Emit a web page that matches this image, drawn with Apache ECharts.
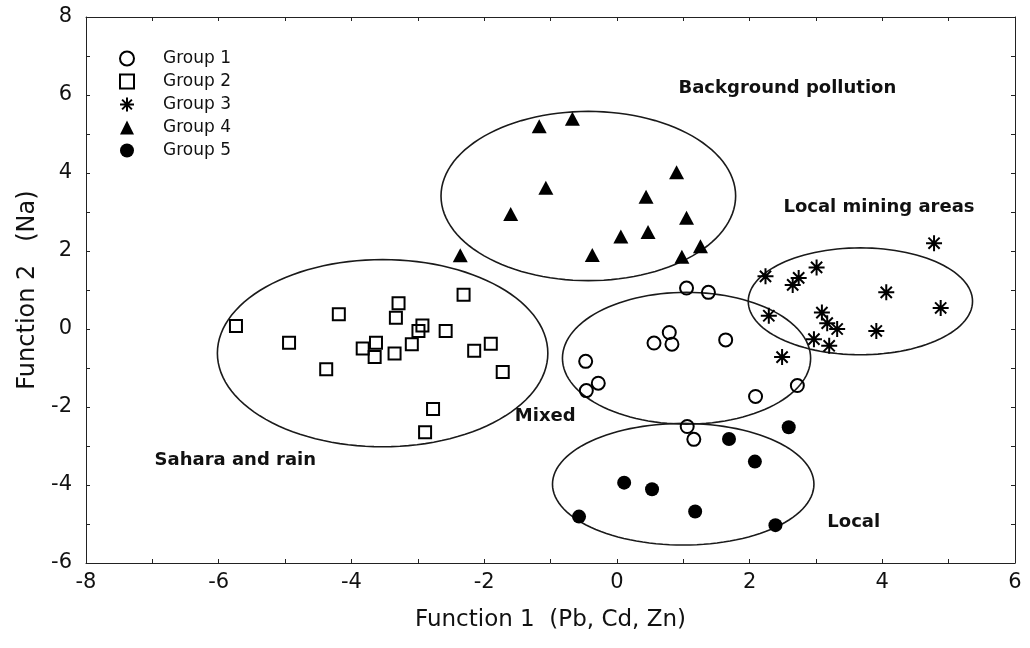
<!DOCTYPE html>
<html>
<head>
<meta charset="utf-8">
<script src="https://cdn.jsdelivr.net/npm/echarts@6/dist/echarts.min.js"></script>
<style>
html, body { margin: 0; background: #fff; }
#chart { width: 1030px; height: 648px; }
</style>
</head>
<body>
<div id="chart"></div>
<script>
"use strict";

// groups (Function 1, Function 2)
var groupNames = ['Group 1', 'Group 2', 'Group 3', 'Group 4', 'Group 5'];

var group1 = [
    [1.05, 1.05], [1.38, 0.94], [0.79, -0.09], [0.56, -0.36], [0.83, -0.39],
    [1.64, -0.28], [-0.47, -0.83], [-0.28, -1.39], [-0.46, -1.58], [2.09, -1.73],
    [2.72, -1.45], [1.06, -2.50], [1.16, -2.83]
];
var group2 = [
    [-5.74, 0.08], [-4.94, -0.35], [-4.19, 0.38], [-4.38, -1.03], [-3.83, -0.50],
    [-3.63, -0.35], [-3.65, -0.72], [-3.29, 0.66], [-3.33, 0.29], [-3.35, -0.63],
    [-3.09, -0.39], [-2.99, -0.05], [-2.93, 0.09], [-2.58, -0.05], [-2.31, 0.88],
    [-2.15, -0.56], [-1.90, -0.38], [-1.72, -1.10], [-2.77, -2.05], [-2.89, -2.65]
];
var group3 = [
    [4.78, 2.20], [2.24, 1.35], [2.74, 1.31], [2.65, 1.13], [3.01, 1.58],
    [4.06, 0.94], [4.88, 0.54], [2.29, 0.34], [3.09, 0.42], [3.17, 0.15],
    [3.32, 0.00], [3.91, -0.05], [2.97, -0.26], [3.20, -0.43], [2.49, -0.72]
];
var group4 = [
    [-1.17, 5.20], [-0.67, 5.39], [-1.07, 3.62], [-1.60, 2.95], [-2.36, 1.89],
    [-0.37, 1.90], [0.06, 2.37], [0.47, 2.49], [0.44, 3.39], [0.90, 4.02],
    [1.05, 2.85], [1.26, 2.12], [0.98, 1.85]
];
var group5 = [
    [2.59, -2.52], [1.69, -2.82], [2.08, -3.40], [0.11, -3.94], [0.53, -4.11],
    [1.18, -4.68], [-0.57, -4.81], [2.39, -5.03]
];

// ellipses round the clusters: centre and half axes, in data units
var ellipseCenters = [[-3.53, -0.62], [-0.43, 3.41], [1.05, -0.75], [1.00, -3.98], [3.67, 0.71]];
var ellipseRadii = [[2.49, 2.40], [2.22, 2.17], [1.87, 1.69], [1.97, 1.56], [1.69, 1.37]];

// area names
var areaNames = ['Sahara and rain', 'Background pollution', 'Mixed', 'Local', 'Local mining areas'];
var areaLabelAt = [[-5.75, -3.38], [2.57, 6.18], [-1.08, -2.23], [3.57, -4.95], [3.95, 3.11]];

var xTicks = { min: -8, max: 6, interval: 2 };
var yTicks = { min: -6, max: 8, interval: 2 };

var FONT = '"DejaVu Sans", "Liberation Sans", sans-serif';
var starPath = 'path://M10,0L10,20M0,10L20,10M3,3L17,17M3,17L17,3';

var myChart = echarts.init(document.getElementById('chart'));

function axisBase(extra) {
    var a = {
        type: 'value',
        axisLine: { show: true, onZero: false, lineStyle: { color: '#222', width: 1 } },
        axisTick: { show: true, inside: true, length: 4, lineStyle: { color: '#222' } },
        minorTick: { show: true, splitNumber: 2, length: 4, lineStyle: { color: '#222' } },
        splitLine: { show: false },
        axisLabel: { color: '#111', fontSize: 21, fontFamily: FONT },
        nameTextStyle: { color: '#111', fontFamily: FONT }
    };
    for (var k in extra) a[k] = extra[k];
    return a;
}

var ellipseData = ellipseCenters.map(function (c, i) {
    return [c[0], c[1], ellipseRadii[i][0], ellipseRadii[i][1]];
});

var option = {
    animation: false,
    backgroundColor: '#fff',
    grid: { left: 86, right: 15, top: 17, bottom: 85 },
    legend: {
        data: groupNames,
        orient: 'vertical',
        left: 114,
        top: 45,
        itemWidth: 14,
        itemHeight: 14,
        itemGap: 6,
        textStyle: { color: '#111', fontSize: 17, fontFamily: FONT, lineHeight: 14, padding: [0, 0, 0, 24] }
    },
    xAxis: [
        axisBase({
            min: xTicks.min, max: xTicks.max, interval: xTicks.interval,
            name: 'Function 1  (Pb, Cd, Zn)', nameLocation: 'middle', nameGap: 46,
            nameTextStyle: { color: '#111', fontFamily: FONT, fontSize: 23 },
            axisLabel: { color: '#111', fontSize: 21, fontFamily: FONT, margin: 9 }
        }),
        axisBase({
            min: xTicks.min, max: xTicks.max, interval: xTicks.interval,
            position: 'top', axisLabel: { show: false }
        })
    ],
    yAxis: [
        axisBase({
            min: yTicks.min, max: yTicks.max, interval: yTicks.interval,
            name: 'Function 2   (Na)', nameLocation: 'middle', nameGap: 45,
            nameTextStyle: { color: '#111', fontFamily: FONT, fontSize: 24 },
            axisLabel: { color: '#111', fontSize: 21, fontFamily: FONT, margin: 14 }
        }),
        axisBase({
            min: yTicks.min, max: yTicks.max, interval: yTicks.interval,
            position: 'right', axisLabel: { show: false }
        })
    ],
    series: [
        {
            type: 'custom',
            name: 'ellipses',
            silent: true,
            z: 1,
            data: ellipseData,
            renderItem: function (params, api) {
                var cx = api.value(0), cy = api.value(1), rx = api.value(2), ry = api.value(3);
                var pts = [];
                for (var k = 0; k < 120; k++) {
                    var t = k / 120 * Math.PI * 2;
                    pts.push(api.coord([cx + rx * Math.cos(t), cy + ry * Math.sin(t)]));
                }
                return {
                    type: 'polygon',
                    shape: { points: pts },
                    style: { fill: 'none', stroke: '#1a1a1a', lineWidth: 1.6 }
                };
            }
        },
        {
            type: 'custom',
            name: 'areas',
            silent: true,
            z: 3,
            data: areaLabelAt.map(function (p, i) { return [p[0], p[1], i]; }),
            renderItem: function (params, api) {
                var pt = api.coord([api.value(0), api.value(1)]);
                return {
                    type: 'text',
                    x: pt[0], y: pt[1],
                    style: {
                        text: areaNames[api.value(2)],
                        fill: '#111',
                        font: 'bold 18px ' + FONT,
                        align: 'center', verticalAlign: 'middle',
                        textAlign: 'center', textVerticalAlign: 'middle'
                    }
                };
            }
        },
        {
            name: groupNames[0], type: 'scatter', z: 4, data: group1,
            symbol: 'circle', symbolSize: 13,
            itemStyle: { color: 'rgba(255,255,255,0)', borderColor: '#000', borderWidth: 2, opacity: 1 }
        },
        {
            name: groupNames[1], type: 'scatter', z: 4, data: group2,
            symbol: 'rect', symbolSize: 12,
            itemStyle: { color: 'rgba(255,255,255,0)', borderColor: '#000', borderWidth: 2, opacity: 1 }
        },
        {
            name: groupNames[2], type: 'scatter', z: 4, data: group3,
            symbol: starPath, symbolSize: 16,
            itemStyle: { color: 'rgba(255,255,255,0)', borderColor: '#000', borderWidth: 2, opacity: 1 }
        },
        {
            name: groupNames[3], type: 'scatter', z: 4, data: group4,
            symbol: 'triangle', symbolSize: [15, 14],
            itemStyle: { color: '#000', opacity: 1 }
        },
        {
            name: groupNames[4], type: 'scatter', z: 4, data: group5,
            symbol: 'circle', symbolSize: 14,
            itemStyle: { color: '#000', opacity: 1 }
        }
    ]
};

myChart.setOption(option);
</script>
</body>
</html>
